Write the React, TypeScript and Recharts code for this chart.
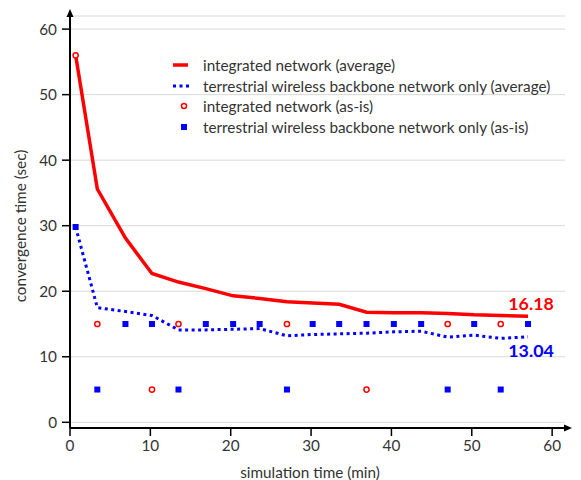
import {
  ComposedChart,
  CartesianGrid,
  LabelList,
  Line,
  ReferenceDot,
  ReferenceLine,
  Scatter,
  XAxis,
  YAxis,
} from 'recharts'

// sampling times (min)
const time = [0.7, 3.4, 6.9, 10.2, 13.5, 16.9, 20.3, 23.6, 27.0, 30.2, 33.5, 36.9, 40.3, 43.7, 47.0, 50.3, 53.6, 57.0]

// averages (sec)
const integratedAvg = [56, 35.6, 28.1, 22.7, 21.4, 20.4, 19.3, 18.9, 18.4, 18.2, 18.0, 16.8, 16.7, 16.7, 16.6, 16.4, 16.3, 16.18]
const backboneAvg = [29.8, 17.5, 16.9, 16.3, 14.1, 14.1, 14.2, 14.3, 13.2, 13.4, 13.5, 13.6, 13.8, 13.9, 13.0, 13.3, 12.8, 13.04]

// single runs (as-is)
const integratedAsIsTime = [0.7, 3.4, 10.2, 13.5, 27.0, 36.9, 47.0, 53.6]
const integratedAsIsValue = [56, 15, 5, 15, 15, 5, 15, 15]
const backboneAsIsValue = [29.8, 5, 15, 15, 5, 15, 15, 15, 5, 15, 15, 15, 15, 15, 5, 15, 5, 15]

const xTicks = [0, 10, 20, 30, 40, 50, 60]
const yTicks = [0, 10, 20, 30, 40, 50, 60]

const X_MAX = 61.6
const Y_MIN = -0.87
const Y_MAX = 62

const RED = '#ff0000'
const BLUE = '#0000ff'
const TEXT = '#333333'
const FS = 15.3

const avgRows = time.map((t, i) => ({ t, integrated: integratedAvg[i], backbone: backboneAvg[i] }))
const integratedAsIs = integratedAsIsTime.map((t, i) => ({ t, v: integratedAsIsValue[i] }))
const backboneAsIs = time.map((t, i) => ({ t, v: backboneAsIsValue[i] }))

const legendRows = [
  { name: 'integrated network (average)', kind: 'line' },
  { name: 'terrestrial wireless backbone network only (average)', kind: 'dots' },
  { name: 'integrated network (as-is)', kind: 'circle' },
  { name: 'terrestrial wireless backbone network only (as-is)', kind: 'square' },
]

function LegendIcon({ kind }: { kind: string }) {
  return (
    <svg width={38} height={20} style={{ display: 'block', flex: 'none' }}>
      {kind === 'line' && <line x1={8} x2={23} y1={10} y2={10} stroke={RED} strokeWidth={3.5} />}
      {kind === 'dots' && (
        <line x1={8} x2={24} y1={10} y2={10} stroke={BLUE} strokeWidth={3} strokeDasharray="3 3.5" />
      )}
      {kind === 'circle' && <circle cx={19} cy={10} r={2.5} fill="#fff" stroke={RED} strokeWidth={1.5} />}
      {kind === 'square' && <rect x={16} y={7} width={6} height={6} fill={BLUE} />}
    </svg>
  )
}

function ChartLegend() {
  return (
    <div style={{ position: 'absolute', left: 165, top: 54.6 }}>
      {legendRows.map((r) => (
        <div key={r.name} style={{ display: 'flex', alignItems: 'center', height: 20.7 }}>
          <LegendIcon kind={r.kind} />
          <span style={{ fontSize: FS, color: TEXT, whiteSpace: 'nowrap' }}>{r.name}</span>
        </div>
      ))}
    </div>
  )
}

const lastLabel = (text: string, color: string, dy: number) => (props: any) => {
  if (props.index !== time.length - 1) return null
  return (
    <text
      x={props.x + 3}
      y={props.y + dy}
      textAnchor="middle"
      dominantBaseline="central"
      fill={color}
      fontWeight="bold"
      fontSize={17.8}
    >
      {text}
    </text>
  )
}

const circleShape = (p: any) => <circle cx={p.cx} cy={p.cy} r={2.6} fill="#fff" stroke={RED} strokeWidth={1.5} />
const squareShape = (p: any) => <rect x={p.cx - 3} y={p.cy - 3} width={6} height={6} fill={BLUE} />
const xArrow = (p: any) => (
  <path d={`M${p.cx - 1},${p.cy - 3.5} L${p.cx + 7},${p.cy} L${p.cx - 1},${p.cy + 3.5} Z`} fill="#000" />
)
const yArrow = (p: any) => (
  <path d={`M${p.cx - 3.5},${p.cy + 1} L${p.cx},${p.cy - 7} L${p.cx + 3.5},${p.cy + 1} Z`} fill="#000" />
)

export default function App() {
  return (
    <div style={{ position: 'relative', width: 581, height: 480, fontFamily: 'Lato, sans-serif' }}>
      <style>{'body{margin:0}'}</style>
      <ComposedChart width={581} height={480} margin={{ top: 16, right: 16, bottom: 0, left: 0 }}>
        <CartesianGrid vertical={false} stroke="#d9d9d9" />
        <XAxis
          type="number"
          dataKey="t"
          domain={[0, X_MAX]}
          ticks={xTicks}
          allowDataOverflow
          height={52}
          axisLine={false}
          tickSize={8}
          tickMargin={4}
          tickLine={{ stroke: '#000', strokeWidth: 1.5 }}
          tick={{ fontSize: FS, fill: TEXT }}
          label={{
            value: 'simulation time (min)',
            content: (p: any) => (
              <text
                x={p.viewBox.x + p.viewBox.width / 2 - 7.5}
                y={p.viewBox.y + 43.7}
                textAnchor="middle"
                dominantBaseline="central"
                fontSize={FS}
                fill={TEXT}
              >
                simulation time (min)
              </text>
            ),
          }}
        />
        <YAxis
          type="number"
          domain={[Y_MIN, Y_MAX]}
          ticks={yTicks}
          allowDataOverflow
          width={70}
          axisLine={false}
          tickSize={8}
          tickMargin={5}
          tickLine={{ stroke: '#000', strokeWidth: 1.5 }}
          tick={{ fontSize: FS, fill: TEXT }}
          label={{
            value: 'convergence time (sec)',
            content: (p: any) => {
              const x = p.viewBox.x + 20
              const y = p.viewBox.y + p.viewBox.height / 2 + 4
              return (
                <text
                  x={x}
                  y={y}
                  transform={`rotate(-90 ${x} ${y})`}
                  textAnchor="middle"
                  dominantBaseline="central"
                  fontSize={FS}
                  fill={TEXT}
                >
                  convergence time (sec)
                </text>
              )
            },
          }}
        />
        <ReferenceLine segment={[{ x: 0, y: Y_MIN }, { x: X_MAX, y: Y_MIN }]} stroke="#000" strokeWidth={2} ifOverflow="visible" />
        <ReferenceLine segment={[{ x: 0, y: Y_MIN }, { x: 0, y: Y_MAX }]} stroke="#000" strokeWidth={2} ifOverflow="visible" />
        <ReferenceDot x={X_MAX} y={Y_MIN} shape={xArrow} ifOverflow="visible" />
        <ReferenceDot x={0} y={Y_MAX} shape={yArrow} ifOverflow="visible" />

        <Line
          data={avgRows}
          dataKey="integrated"
          stroke={RED}
          strokeWidth={3.5}
          dot={false}
          activeDot={false}
          isAnimationActive={false}
        >
          <LabelList dataKey="integrated" content={lastLabel('16.18', RED, -13)} />
        </Line>
        <Line
          data={avgRows}
          dataKey="backbone"
          stroke={BLUE}
          strokeWidth={3}
          strokeDasharray="3 3.5"
          dot={false}
          activeDot={false}
          isAnimationActive={false}
        >
          <LabelList dataKey="backbone" content={lastLabel('13.04', BLUE, 13)} />
        </Line>
        <Scatter data={integratedAsIs} dataKey="v" shape={circleShape} isAnimationActive={false} />
        <Scatter data={backboneAsIs} dataKey="v" shape={squareShape} isAnimationActive={false} />
      </ComposedChart>
      <ChartLegend />
    </div>
  )
}
